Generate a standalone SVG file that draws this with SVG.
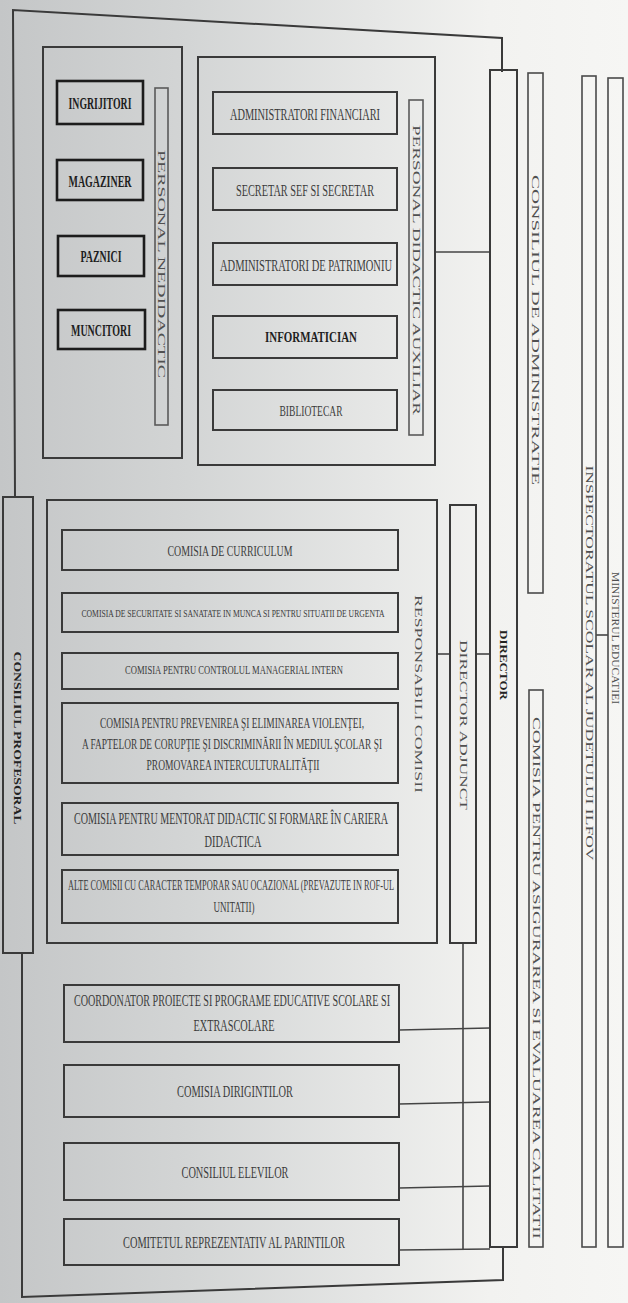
<svg xmlns="http://www.w3.org/2000/svg" width="628" height="1303" viewBox="0 0 628 1303">
<defs>
<linearGradient id="bg" x1="0" y1="0" x2="1" y2="0">
<stop offset="0" stop-color="#c4c6c7"/>
<stop offset="0.3" stop-color="#d3d5d5"/>
<stop offset="0.6" stop-color="#e6e7e6"/>
<stop offset="0.78" stop-color="#f2f2f0"/>
<stop offset="1" stop-color="#f6f6f4"/>
</linearGradient>
<style>
.box{fill:none;stroke:#3a3a3a;stroke-width:2}
.dark{fill:none;stroke:#1c1c1c;stroke-width:2.6}
.bar{fill:none;stroke:#5a5a5a;stroke-width:1.6}
.thin{fill:none;stroke:#4a4a4a;stroke-width:1.6}
.conn{fill:none;stroke:#444;stroke-width:1.6}
.t{font-family:"Liberation Serif","DejaVu Serif",serif;fill:#3c3c3c;text-anchor:middle;dominant-baseline:central}
.tk{font-family:"Liberation Serif","DejaVu Serif",serif;fill:#1e1e1e;text-anchor:middle;dominant-baseline:central;font-weight:bold}
.tv{font-family:"Liberation Serif","DejaVu Serif",serif;fill:#505050;text-anchor:middle;dominant-baseline:central;font-size:10px}
.tvb{font-family:"Liberation Serif","DejaVu Serif",serif;fill:#222;text-anchor:middle;dominant-baseline:central;font-size:11px;font-weight:bold}
</style>
</defs>
<rect x="0" y="0" width="628" height="1303" fill="url(#bg)"/>

<g id="connectors">
<polyline class="box" points="502,72 502,38 13,10 15,497"/>
<polyline class="box" points="22,953 22,1297 503,1280 503,1247"/>
<line class="conn" x1="435" y1="252" x2="490" y2="252"/>
<line class="conn" x1="437" y1="654" x2="450" y2="654"/>
<line class="conn" x1="476" y1="654" x2="490" y2="654"/>
<line class="conn" x1="463" y1="943" x2="463" y2="1250"/>
<line class="conn" x1="399" y1="1030" x2="490" y2="1028"/>
<line class="conn" x1="399" y1="1104" x2="490" y2="1102"/>
<line class="conn" x1="399" y1="1188" x2="490" y2="1186"/>
<line class="conn" x1="399" y1="1250" x2="490" y2="1249"/>
<line class="conn" x1="596" y1="635" x2="608" y2="635"/>
</g>

<g id="personal-nedidactic">
<rect class="box" x="43" y="47" width="139" height="411"/>
<rect class="bar" x="155" y="88" width="13" height="337"/>
<text class="tv" transform="translate(161.5,264) rotate(90)" textLength="228" lengthAdjust="spacingAndGlyphs">PERSONAL NEDIDACTIC</text>
</g>
<g id="ingrijitori">
<rect class="dark" x="57" y="81" width="86" height="43"/>
<text class="tk" x="100" y="103" font-size="16" textLength="63" lengthAdjust="spacingAndGlyphs">INGRIJITORI</text>
</g>
<g id="magaziner">
<rect class="dark" x="57" y="160" width="86" height="40"/>
<text class="tk" x="100" y="181" font-size="16" textLength="63" lengthAdjust="spacingAndGlyphs">MAGAZINER</text>
</g>
<g id="paznici">
<rect class="dark" x="58" y="236" width="86" height="40"/>
<text class="tk" x="101" y="256" font-size="16" textLength="41" lengthAdjust="spacingAndGlyphs">PAZNICI</text>
</g>
<g id="muncitori">
<rect class="dark" x="58" y="310" width="87" height="39"/>
<text class="tk" x="101" y="330" font-size="16" textLength="60" lengthAdjust="spacingAndGlyphs">MUNCITORI</text>
</g>

<g id="personal-didactic-auxiliar">
<rect class="box" x="198" y="57" width="237" height="408"/>
<rect class="bar" x="409" y="100" width="14" height="335"/>
<text class="tv" transform="translate(416,270) rotate(90)" textLength="290" lengthAdjust="spacingAndGlyphs">PERSONAL DIDACTIC AUXILIAR</text>
</g>
<g id="administratori-financiari">
<rect class="box" x="213" y="92" width="184" height="42"/>
<text class="t" x="305" y="114" font-size="16" textLength="150" lengthAdjust="spacingAndGlyphs">ADMINISTRATORI FINANCIARI</text>
</g>
<g id="secretar">
<rect class="box" x="213" y="168" width="184" height="42"/>
<text class="t" x="305" y="190" font-size="16" textLength="138" lengthAdjust="spacingAndGlyphs">SECRETAR SEF SI SECRETAR</text>
</g>
<g id="administratori-patrimoniu">
<rect class="box" x="213" y="243" width="184" height="42"/>
<text class="t" x="306" y="265" font-size="16" textLength="172" lengthAdjust="spacingAndGlyphs">ADMINISTRATORI DE PATRIMONIU</text>
</g>
<g id="informatician">
<rect class="box" x="213" y="316" width="184" height="42"/>
<text class="tk" x="311" y="337" font-size="15" textLength="92" lengthAdjust="spacingAndGlyphs">INFORMATICIAN</text>
</g>
<g id="bibliotecar">
<rect class="box" x="213" y="390" width="184" height="40"/>
<text class="t" x="311" y="411" font-size="15" textLength="63" lengthAdjust="spacingAndGlyphs">BIBLIOTECAR</text>
</g>

<g id="responsabili-comisii">
<rect class="box" x="47" y="500" width="390" height="443"/>
<text class="tv" transform="translate(418,694) rotate(90)" textLength="198" lengthAdjust="spacingAndGlyphs">RESPONSABILI COMISII</text>
</g>
<g id="comisia-curriculum">
<rect class="box" x="62" y="530" width="336" height="40"/>
<text class="t" x="230" y="551" font-size="14" textLength="125" lengthAdjust="spacingAndGlyphs" fill="#5a5a5a">COMISIA DE CURRICULUM</text>
</g>
<g id="comisia-securitate">
<rect class="box" x="62" y="593" width="336" height="39"/>
<text class="t" x="233" y="613" font-size="11" textLength="303" lengthAdjust="spacingAndGlyphs" fill="#5a5a5a">COMISIA DE SECURITATE SI SANATATE IN MUNCA SI PENTRU SITUATII DE URGENTA</text>
</g>
<g id="comisia-control">
<rect class="box" x="62" y="653" width="336" height="36"/>
<text class="t" x="234" y="670" font-size="12" textLength="218" lengthAdjust="spacingAndGlyphs" fill="#5a5a5a">COMISIA PENTRU CONTROLUL MANAGERIAL INTERN</text>
</g>
<g id="comisia-prevenire">
<rect class="box" x="62" y="703" width="336" height="80"/>
<text class="t" x="232" y="723" font-size="15" textLength="264" lengthAdjust="spacingAndGlyphs" fill="#4a4a4a">COMISIA PENTRU PREVENIREA ŞI ELIMINAREA VIOLENŢEI,</text>
<text class="t" x="232" y="744" font-size="15" textLength="300" lengthAdjust="spacingAndGlyphs" fill="#4a4a4a">A FAPTELOR DE CORUPŢIE ŞI DISCRIMINĂRII ÎN MEDIUL ŞCOLAR ŞI</text>
<text class="t" x="233" y="765" font-size="15" textLength="173" lengthAdjust="spacingAndGlyphs" fill="#4a4a4a">PROMOVAREA INTERCULTURALITĂŢII</text>
</g>
<g id="comisia-mentorat">
<rect class="box" x="62" y="803" width="336" height="52"/>
<text class="t" x="231" y="818" font-size="17" textLength="314" lengthAdjust="spacingAndGlyphs">COMISIA PENTRU MENTORAT DIDACTIC SI FORMARE ÎN CARIERA</text>
<text class="t" x="233" y="841" font-size="17" textLength="57" lengthAdjust="spacingAndGlyphs">DIDACTICA</text>
</g>
<g id="alte-comisii">
<rect class="box" x="62" y="870" width="336" height="53"/>
<text class="t" x="231" y="885" font-size="14" textLength="326" lengthAdjust="spacingAndGlyphs">ALTE COMISII CU CARACTER TEMPORAR SAU OCAZIONAL (PREVAZUTE IN ROF-UL</text>
<text class="t" x="234" y="907" font-size="14" textLength="41" lengthAdjust="spacingAndGlyphs">UNITATII)</text>
</g>

<g id="coordonator-proiecte">
<rect class="box" x="64" y="985" width="335" height="57"/>
<text class="t" x="232" y="1000" font-size="17" textLength="316" lengthAdjust="spacingAndGlyphs">COORDONATOR PROIECTE SI PROGRAME EDUCATIVE SCOLARE SI</text>
<text class="t" x="234" y="1025" font-size="17" textLength="81" lengthAdjust="spacingAndGlyphs">EXTRASCOLARE</text>
</g>
<g id="comisia-diriginti">
<rect class="box" x="64" y="1065" width="335" height="52"/>
<text class="t" x="235" y="1091" font-size="17" textLength="116" lengthAdjust="spacingAndGlyphs">COMISIA DIRIGINTILOR</text>
</g>
<g id="consiliul-elevilor">
<rect class="box" x="64" y="1143" width="335" height="57"/>
<text class="t" x="235" y="1172" font-size="17" textLength="107" lengthAdjust="spacingAndGlyphs">CONSILIUL ELEVILOR</text>
</g>
<g id="comitetul-parintilor">
<rect class="box" x="64" y="1219" width="335" height="46"/>
<text class="t" x="234" y="1242" font-size="17" textLength="222" lengthAdjust="spacingAndGlyphs">COMITETUL REPREZENTATIV AL PARINTILOR</text>
</g>

<g id="consiliul-profesoral">
<rect class="box" x="3" y="497" width="30" height="456"/>
<text class="tvb" transform="translate(18,738) rotate(90)" textLength="173" lengthAdjust="spacingAndGlyphs">CONSILIUL PROFESORAL</text>
</g>

<g id="director-adjunct">
<rect class="box" x="450" y="505" width="26" height="438"/>
<text class="tv" transform="translate(463,725) rotate(90)" textLength="170" lengthAdjust="spacingAndGlyphs">DIRECTOR ADJUNCT</text>
</g>
<g id="director">
<rect class="box" x="490" y="70" width="27" height="1177"/>
<text class="tvb" transform="translate(503.5,665) rotate(90)" textLength="70" lengthAdjust="spacingAndGlyphs">DIRECTOR</text>
</g>
<g id="consiliul-administratie">
<rect class="thin" x="528" y="73" width="15" height="520"/>
<text class="tv" transform="translate(535.5,330) rotate(90)" textLength="310" lengthAdjust="spacingAndGlyphs">CONSILIUL DE ADMINISTRATIE</text>
</g>
<g id="comisia-calitate">
<rect class="thin" x="529" y="690" width="14" height="557"/>
<text class="tv" transform="translate(536,978) rotate(90)" textLength="522" lengthAdjust="spacingAndGlyphs">COMISIA PENTRU ASIGURAREA SI EVALUAREA CALITATII</text>
</g>
<g id="inspectoratul">
<rect class="thin" x="582" y="76" width="14" height="1171"/>
<text class="tv" transform="translate(589,663) rotate(90)" textLength="395" lengthAdjust="spacingAndGlyphs">INSPECTORATUL SCOLAR AL JUDETULUI ILFOV</text>
</g>
<g id="ministerul">
<rect class="thin" x="608" y="78" width="15" height="1169"/>
<text class="tv" transform="translate(615.5,638) rotate(90)" textLength="132" lengthAdjust="spacingAndGlyphs">MINISTERUL EDUCATIEI</text>
</g>
</svg>
